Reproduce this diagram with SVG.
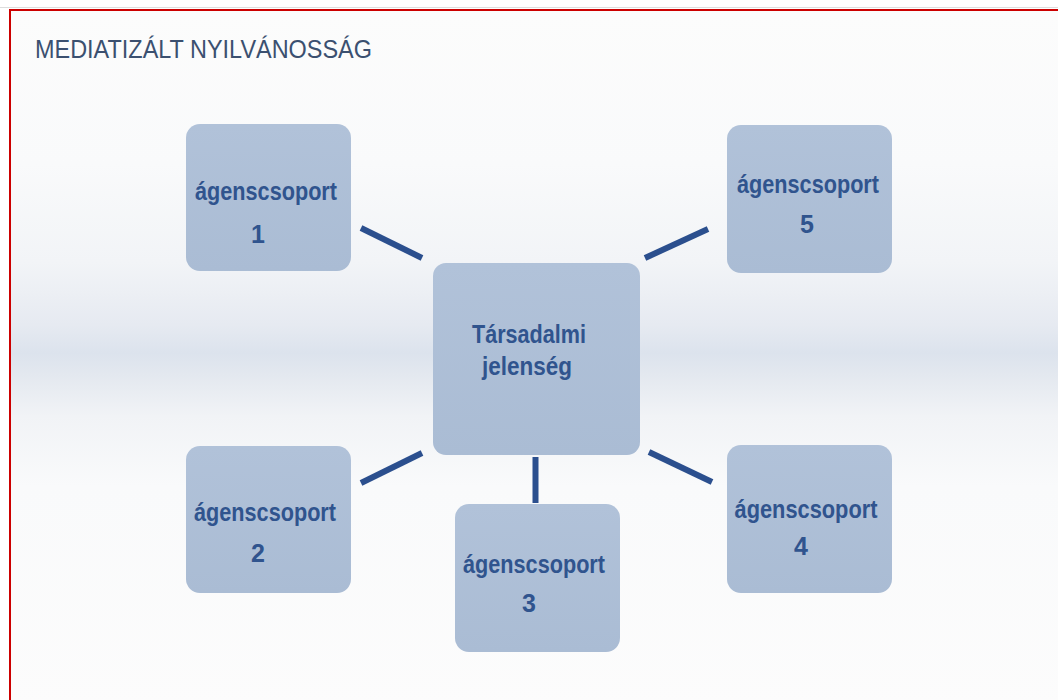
<svg xmlns="http://www.w3.org/2000/svg" width="1058" height="700" viewBox="0 0 1058 700">
<defs>
<linearGradient id="bg" x1="0" y1="0" x2="0" y2="1">
<stop offset="0" stop-color="#fcfcfc"/>
<stop offset="0.22" stop-color="#f9fafb"/>
<stop offset="0.36" stop-color="#f2f4f7"/>
<stop offset="0.45" stop-color="#e6eaf1"/>
<stop offset="0.49" stop-color="#dce3ed"/>
<stop offset="0.52" stop-color="#e3e8ef"/>
<stop offset="0.58" stop-color="#f1f3f6"/>
<stop offset="0.68" stop-color="#f9fafb"/>
<stop offset="1" stop-color="#fcfcfc"/>
</linearGradient>
<linearGradient id="box" x1="0" y1="0" x2="0" y2="1">
<stop offset="0" stop-color="#b1c2d9"/>
<stop offset="1" stop-color="#aabcd4"/>
</linearGradient>
<style>
.node rect{fill:url(#box);}
.lbl{font-family:"Liberation Sans",Arial,sans-serif;font-size:25px;font-weight:bold;fill:#30548e;text-anchor:middle;}
.title{font-family:"Liberation Sans",Arial,sans-serif;font-size:26px;fill:#3b5070;}
#connectors line{stroke:#2b4f8e;stroke-width:6;stroke-linecap:butt;}
</style>
</defs>
<rect x="0" y="0" width="1058" height="700" fill="#ffffff"/>
<rect x="10" y="10" width="1060" height="700" fill="url(#bg)"/>
<line x1="0" y1="7.5" x2="1058" y2="7.5" stroke="#dddddd" stroke-width="1"/>
<line x1="9" y1="10" x2="1058" y2="10" stroke="#cc0000" stroke-width="2"/>
<line x1="10" y1="9" x2="10" y2="700" stroke="#cc0000" stroke-width="2"/>
<text class="title" x="35" y="58" textLength="337" lengthAdjust="spacingAndGlyphs">MEDIATIZÁLT NYILVÁNOSSÁG</text>
<g id="connectors">
<line x1="361" y1="228" x2="422" y2="258"/>
<line x1="645" y1="258" x2="708" y2="229"/>
<line x1="361" y1="483" x2="422" y2="453"/>
<line x1="535.5" y1="457" x2="535.5" y2="503"/>
<line x1="649" y1="452" x2="712" y2="482"/>
</g>
<g id="center" class="node">
<rect x="433" y="263" width="207" height="192" rx="13"/>
<text class="lbl" x="529" y="343" textLength="114" lengthAdjust="spacingAndGlyphs">Társadalmi</text>
<text class="lbl" x="527" y="375" textLength="90" lengthAdjust="spacingAndGlyphs">jelenség</text>
</g>
<g id="node1" class="node">
<rect x="186" y="124" width="165" height="147" rx="14"/>
<text class="lbl" x="266" y="200" textLength="142" lengthAdjust="spacingAndGlyphs">ágenscsoport</text>
<text class="lbl" x="258" y="243">1</text>
</g>
<g id="node2" class="node">
<rect x="186" y="446" width="165" height="147" rx="14"/>
<text class="lbl" x="265" y="521" textLength="142" lengthAdjust="spacingAndGlyphs">ágenscsoport</text>
<text class="lbl" x="258" y="562">2</text>
</g>
<g id="node3" class="node">
<rect x="455" y="504" width="165" height="148" rx="14"/>
<text class="lbl" x="534" y="573" textLength="142" lengthAdjust="spacingAndGlyphs">ágenscsoport</text>
<text class="lbl" x="529" y="612">3</text>
</g>
<g id="node4" class="node">
<rect x="727" y="445" width="165" height="148" rx="14"/>
<text class="lbl" x="806" y="518" textLength="143" lengthAdjust="spacingAndGlyphs">ágenscsoport</text>
<text class="lbl" x="801" y="555">4</text>
</g>
<g id="node5" class="node">
<rect x="727" y="125" width="165" height="148" rx="14"/>
<text class="lbl" x="808" y="193" textLength="142" lengthAdjust="spacingAndGlyphs">ágenscsoport</text>
<text class="lbl" x="807" y="233">5</text>
</g>
</svg>
